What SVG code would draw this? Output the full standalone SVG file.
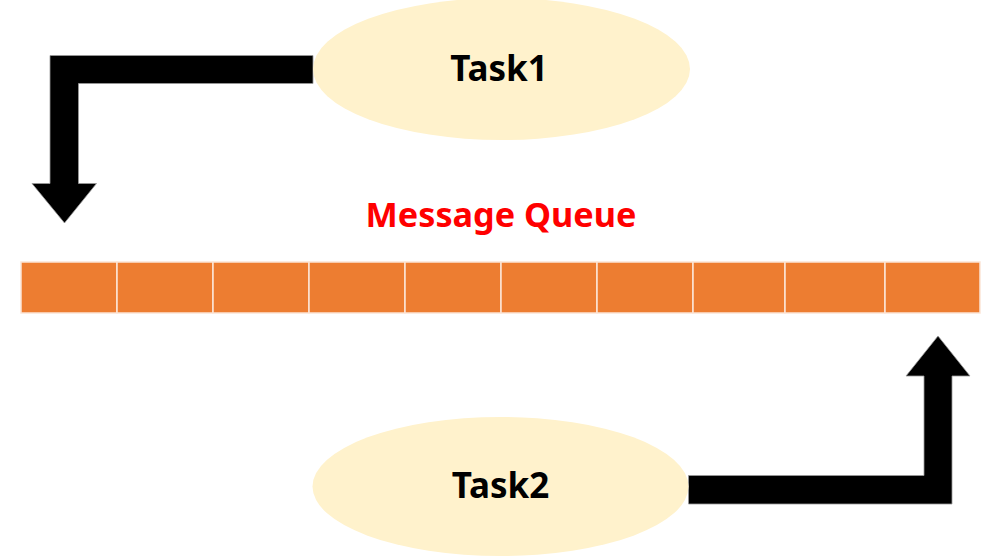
<svg xmlns="http://www.w3.org/2000/svg" width="996" height="557" viewBox="0 0 996 557">
<style>
.task{fill:#FFF2CC;}
.lbl{font-family:"Noto Sans","Liberation Sans",sans-serif;font-weight:bold;text-anchor:middle;}
.cell{fill:#ED7D31;stroke:#FBE5D6;stroke-width:1.5;}
.arrow{fill:#000;stroke:#999;stroke-width:0.8;}
</style>
<rect width="996" height="557" fill="#fff"/>
<g id="queue">
<rect class="cell" x="21" y="262" width="96" height="51"/>
<rect class="cell" x="117" y="262" width="96" height="51"/>
<rect class="cell" x="213" y="262" width="96" height="51"/>
<rect class="cell" x="309" y="262" width="96" height="51"/>
<rect class="cell" x="405" y="262" width="96" height="51"/>
<rect class="cell" x="501" y="262" width="96" height="51"/>
<rect class="cell" x="597" y="262" width="96" height="51"/>
<rect class="cell" x="693" y="262" width="92" height="51"/>
<rect class="cell" x="785" y="262" width="100" height="51"/>
<rect class="cell" x="885" y="262" width="95" height="51"/>
<text class="lbl" x="501" y="226.5" font-size="33.5" fill="#FF0000" textLength="271" lengthAdjust="spacingAndGlyphs">Message Queue</text>
</g>
<g id="connectors">
<path class="arrow" d="M313,55.5 L50,55.5 L50,183.5 L32,183.5 L64.5,223 L96.5,183.5 L78.5,183.5 L78.5,83.5 L313,83.5 Z"/>
<path class="arrow" d="M688.5,475.5 L924,475.5 L924,376 L906,376 L938,336 L970,376 L952,376 L952,504 L688.5,504 Z"/>
</g>
<g id="task1">
<ellipse class="task" cx="501.5" cy="69" rx="188.5" ry="71"/>
<text class="lbl" x="499" y="81" font-size="35" fill="#000">Task1</text>
</g>
<g id="task2">
<ellipse class="task" cx="500.5" cy="486.5" rx="188" ry="69.5"/>
<text class="lbl" x="500.5" y="498" font-size="35" fill="#000">Task2</text>
</g>
</svg>
